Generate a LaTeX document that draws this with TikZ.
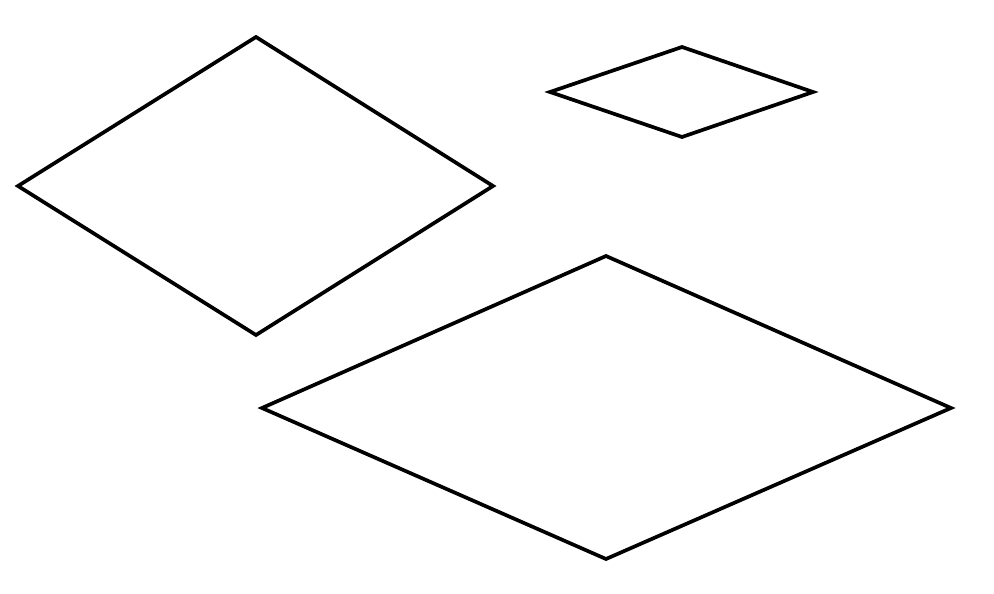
\documentclass[tikz,border=0pt]{standalone}
\usepackage{tikz}

\begin{document}
\begin{tikzpicture}[x=0.02cm, y=-0.02cm, line width=2.1pt, line join=miter]
	\useasboundingbox (0,0) rectangle (994,594);
	
	\draw (256,37) -- (493,186) -- (256,335) -- (18,186) -- cycle;
	\draw (682,47) -- (813,92) -- (682,137) -- (550,92) -- cycle;
	\draw (606,256) -- (951,408) -- (606,559) -- (262,408) -- cycle;
\end{tikzpicture}
\end{document}
